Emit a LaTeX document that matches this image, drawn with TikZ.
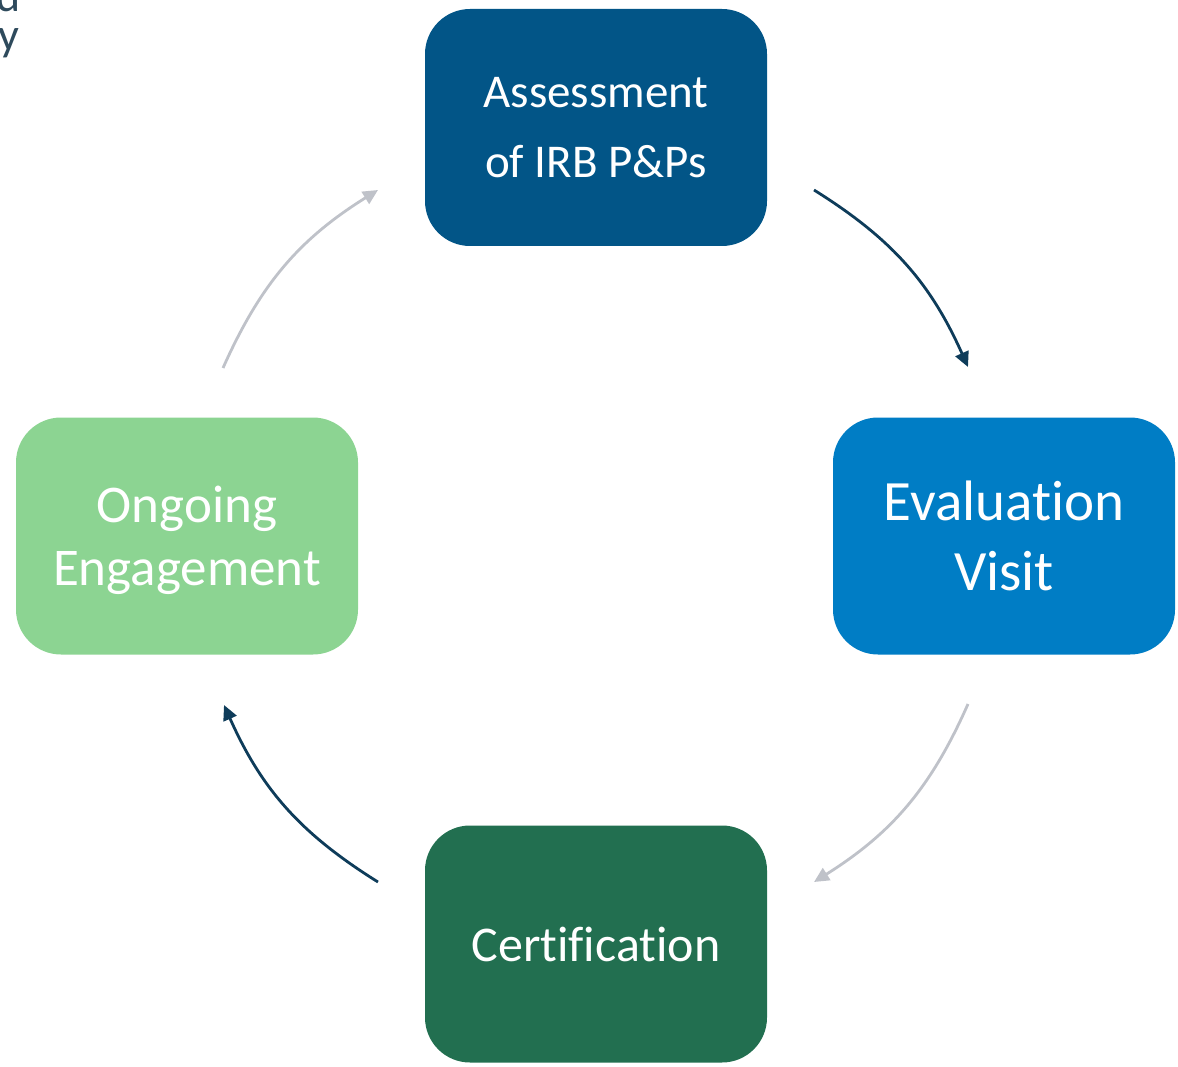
\documentclass[tikz,border=0pt]{standalone}
\usepackage{fontspec}
\setmainfont{Carlito}[Ligatures=NoCommon]
\usetikzlibrary{arrows.meta}
\definecolor{cA}{HTML}{025587}
\definecolor{cB}{HTML}{007DC5}
\definecolor{cC}{HTML}{226F50}
\definecolor{cD}{HTML}{8CD492}
\definecolor{navy}{HTML}{0E3C5A}
\definecolor{grayarr}{HTML}{BFC2C9}
\definecolor{frag}{HTML}{2E4A5C}
\begin{document}
\begin{tikzpicture}[x=1pt,y=-1pt,
  box/.style={rounded corners=45pt, minimum width=342pt, minimum height=237pt, text=white, align=center, inner sep=0pt},
  darrow/.style={draw=navy, line width=2.8pt, -{Triangle[length=15pt,width=14pt]}},
  garrow/.style={draw=grayarr, line width=2.8pt, -{Triangle[length=15pt,width=14pt]}},
  fragtext/.style={text=frag, font=\fontsize{46}{46}\selectfont, inner sep=0pt, anchor=base east}]
\useasboundingbox (0,0) rectangle (1178,1067);
\begin{scope}
\clip (0,0) rectangle (1178,1067);
\node[fragtext] (f1) at (21,12) {d};
\node[fragtext] (f2) at (20,51) {y};
\end{scope}
\node[box, fill=cA, font=\fontsize{47}{70}\selectfont] (ass) at (596,127.5) {Assessment\\ of IRB P\&Ps};
\node[box, fill=cB, font=\fontsize{57}{70}\selectfont] (eva) at (1004,536) {Evaluation\\Visit};
\node[box, fill=cC, font=\fontsize{50}{60}\selectfont] (cer) at (596,944) {Certification};
\node[box, fill=cD] (ong) at (187,536) {};
\node[text=white, align=center, inner sep=0pt, font=\fontsize{53}{63}\selectfont] (ongt) at (187,540) {Ongoing\\Engagement};
\coordinate (a1s) at (814,190);
\coordinate (a1e) at (968,367);
\coordinate (a2s) at (968,704);
\coordinate (a2e) at (814,882);
\coordinate (a3s) at (378,882);
\coordinate (a3e) at (224,705);
\coordinate (a4s) at (223,368);
\coordinate (a4e) at (378,190);
\draw[darrow] (a1s) to[bend left=17] (a1e);
\draw[garrow] (a2s) to[bend left=17] (a2e);
\draw[darrow] (a3s) to[bend left=17] (a3e);
\draw[garrow] (a4s) to[bend left=17] (a4e);
\end{tikzpicture}
\end{document}
